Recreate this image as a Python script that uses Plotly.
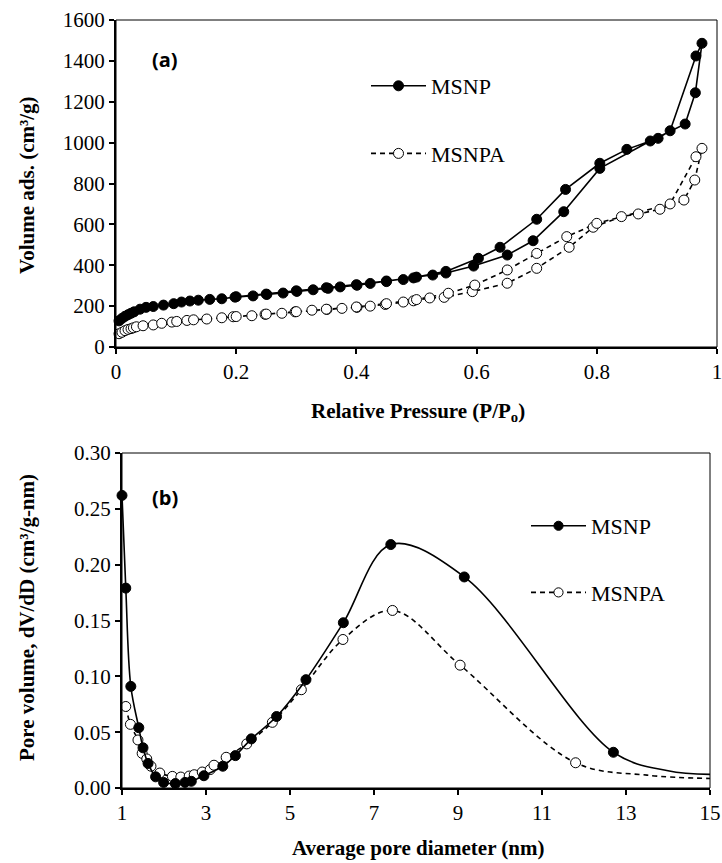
import plotly.graph_objects as go

# ---------------- Panel (a): N2 isotherms ----------------
msnp_ads_p = [0.005, 0.010, 0.015, 0.020, 0.025, 0.030, 0.040, 0.050, 0.062, 0.079, 0.096, 0.109,
              0.123, 0.137, 0.156, 0.176, 0.198, 0.228, 0.251, 0.278, 0.301, 0.328, 0.353, 0.373,
              0.401, 0.423, 0.450, 0.478, 0.495, 0.527, 0.549, 0.595, 0.651, 0.694, 0.745, 0.805,
              0.889, 0.947, 0.964, 0.975]
msnp_ads_v = [128, 140, 150, 158, 165, 172, 185, 194, 198, 205, 212, 220,
              225, 229, 233, 236, 244, 250, 257, 264, 272, 280, 287, 294,
              302, 311, 320, 330, 338, 352, 362, 396, 450, 520, 662, 874,
              1008, 1091, 1244, 1486]
msnp_des_p = [0.965, 0.922, 0.902, 0.850, 0.805, 0.748, 0.700, 0.639, 0.603, 0.549, 0.500,
              0.450, 0.400, 0.350, 0.300, 0.250, 0.200]
msnp_des_v = [1424, 1058, 1021, 967, 899, 771, 625, 488, 434, 370, 342,
              323, 305, 290, 275, 259, 246]

msnpa_ads_p = [0.005, 0.010, 0.015, 0.020, 0.025, 0.029, 0.034, 0.045, 0.062, 0.076, 0.093, 0.101,
               0.118, 0.129, 0.151, 0.176, 0.195, 0.226, 0.248, 0.276, 0.298, 0.326, 0.351, 0.376,
               0.401, 0.423, 0.448, 0.478, 0.495, 0.522, 0.546, 0.593, 0.651, 0.700, 0.754, 0.794,
               0.841, 0.869, 0.905, 0.945, 0.963, 0.975]
msnpa_ads_v = [65, 72, 80, 86, 90, 94, 99, 104, 108, 116, 122, 125,
               130, 133, 137, 143, 148, 153, 160, 165, 172, 180, 184, 189,
               194, 200, 208, 220, 226, 240, 243, 271, 312, 385, 488, 586,
               638, 651, 674, 719, 817, 972]
msnpa_des_p = [0.965, 0.922, 0.800, 0.750, 0.700, 0.651, 0.597, 0.553, 0.500, 0.450, 0.400,
               0.350, 0.300, 0.250, 0.200]
msnpa_des_v = [931, 700, 605, 540, 458, 377, 303, 263, 232, 212, 196,
               185, 173, 161, 149]

# ---------------- Panel (b): pore size distribution ----------------
msnp_d = [1.00, 1.09, 1.21, 1.40, 1.50, 1.62, 1.80, 1.99, 2.27, 2.50, 2.65, 2.95, 3.40, 3.70,
          4.08, 4.68, 5.38, 6.27, 7.40, 9.15, 12.70, 14.0, 15.0]
msnp_dv = [0.262, 0.179, 0.091, 0.054, 0.036, 0.022, 0.010, 0.005, 0.004, 0.005, 0.006, 0.011,
           0.0195, 0.029, 0.044, 0.064, 0.097, 0.148, 0.218, 0.189, 0.032, 0.0155, 0.0122]
msnp_shown = [True] * 21 + [False, False]

msnpa_d = [1.09, 1.20, 1.38, 1.48, 1.59, 1.69, 1.90, 2.20, 2.40, 2.60, 2.72, 2.91, 3.10, 3.19,
           3.48, 3.97, 4.58, 5.27, 6.26, 7.44, 9.05, 11.80, 13.5, 15.0]
msnpa_dv = [0.073, 0.057, 0.043, 0.031, 0.026, 0.0195, 0.0134, 0.0104, 0.0098, 0.0107, 0.0119,
            0.0143, 0.0165, 0.0204, 0.0275, 0.0395, 0.0588, 0.088, 0.133, 0.159, 0.110, 0.0226,
            0.0115, 0.0085]
msnpa_shown = [True] * 22 + [False, False]

x1_ticks = [0, 0.2, 0.4, 0.6, 0.8, 1]
y1_ticks = [0, 200, 400, 600, 800, 1000, 1200, 1400, 1600]
x2_ticks = [1, 3, 5, 7, 9, 11, 13, 15]
y2_ticks = [0, 0.05, 0.10, 0.15, 0.20, 0.25, 0.30]

SERIF = "Liberation Serif, Times New Roman, serif"
W, H = 722, 863

fig = go.Figure()

filled = dict(symbol="circle", size=10, color="black", opacity=1, line=dict(color="black", width=1))
hollow = dict(symbol="circle", size=10, color="white", opacity=1, line=dict(color="black", width=1))

# panel (a)
fig.add_trace(go.Scatter(x=msnp_ads_p + msnp_des_p, y=msnp_ads_v + msnp_des_v,
                         mode="lines+markers", name="MSNP", legend="legend", legendgroup="a1",
                         legendrank=1,
                         line=dict(color="black", width=1.6), marker=filled,
                         xaxis="x", yaxis="y", cliponaxis=False))
fig.add_trace(go.Scatter(x=msnpa_ads_p + msnpa_des_p, y=msnpa_ads_v + msnpa_des_v,
                         mode="lines+markers", name="MSNPA", legend="legend", legendgroup="a2",
                         legendrank=2,
                         line=dict(color="black", width=1.6, dash="5px,4px"), marker=hollow,
                         xaxis="x", yaxis="y", cliponaxis=False))

# panel (b)
fig.add_trace(go.Scatter(x=msnpa_d, y=msnpa_dv, mode="lines+markers", name="MSNPA",
                         legend="legend2", legendgroup="b2", legendrank=2,
                         line=dict(color="black", width=1.6, dash="5px,4px", shape="spline", smoothing=1.0),
                         marker=dict(hollow, size=[10 if s else 0 for s in msnpa_shown]),
                         xaxis="x2", yaxis="y2", cliponaxis=False))
fig.add_trace(go.Scatter(x=msnp_d, y=msnp_dv, mode="lines+markers", name="MSNP",
                         legend="legend2", legendgroup="b1", legendrank=1,
                         line=dict(color="black", width=1.6, shape="spline", smoothing=1.0),
                         marker=dict(filled, size=[10 if s else 0 for s in msnp_shown]),
                         xaxis="x2", yaxis="y2", cliponaxis=False))

axis_common = dict(showgrid=False, zeroline=False, showline=True, linecolor="black", linewidth=2,
                   ticks="outside", ticklen=5, tickwidth=1.5, tickcolor="black", mirror=False,
                   automargin=False, ticklabeloverflow="allow",
                   tickfont=dict(family=SERIF, size=21, color="black"))


def note(text, px, py, size, family=SERIF, angle=0):
    return dict(text=text, x=px / W, y=1 - py / H, xref="paper", yref="paper",
                xanchor="center", yanchor="middle", textangle=angle, showarrow=False,
                font=dict(family=family, size=size, color="black"))


fig.update_layout(
    width=W, height=H, margin=dict(l=0, r=0, t=0, b=0, pad=0, autoexpand=False),
    paper_bgcolor="white", plot_bgcolor="white",
    xaxis=dict(axis_common, domain=[116 / W, 717 / W], range=[0, 1], tickvals=x1_ticks,
               anchor="y"),
    yaxis=dict(axis_common, domain=[1 - 347 / H, 1 - 20 / H], range=[0, 1600], tickvals=y1_ticks,
               anchor="x"),
    xaxis2=dict(axis_common, domain=[122 / W, 710 / W], range=[1, 15], tickvals=x2_ticks,
                anchor="y2"),
    yaxis2=dict(axis_common, domain=[1 - 788 / H, 1 - 453 / H], range=[0, 0.30], tickvals=y2_ticks,
                tickformat=".2f", anchor="x2"),
    legend=dict(x=366 / W, y=1 - 65 / H, xanchor="left", yanchor="top", bgcolor="rgba(0,0,0,0)",
                font=dict(family=SERIF, size=22, color="black"), traceorder="grouped",
                tracegroupgap=36, itemwidth=55),
    legend2=dict(x=526 / W, y=1 - 505 / H, xanchor="left", yanchor="top", bgcolor="rgba(0,0,0,0)",
                 font=dict(family=SERIF, size=22, color="black"), traceorder="grouped",
                 tracegroupgap=35, itemwidth=55),
    shapes=[
        dict(type="rect", xref="x domain", yref="y domain", x0=0, x1=1, y0=0, y1=1,
             line=dict(color="black", width=1), layer="above"),
        dict(type="rect", xref="x2 domain", yref="y2 domain", x0=0, x1=1, y0=0, y1=1,
             line=dict(color="black", width=1), layer="above"),
    ],
    annotations=[
        note("<b>(a)</b>", 165, 59, 20, family="Open Sans"),
        note("<b>(b)</b>", 165, 498, 20, family="Open Sans"),
        note("<b>Relative Pressure (P/P<sub>o</sub>)</b>", 418, 412, 21),
        note("<b>Average pore diameter (nm)</b>", 418, 848, 21),
        note("<b>Volume ads. (cm³/g)</b>", 27, 185, 21, angle=-90),
        note("<b>Pore volume, dV/dD (cm³/g-nm)</b>", 27, 618, 21, angle=-90),
    ],
)

fig.write_html("out.html", config={"displayModeBar": False},
               post_script="document.body.style.margin='0';")
